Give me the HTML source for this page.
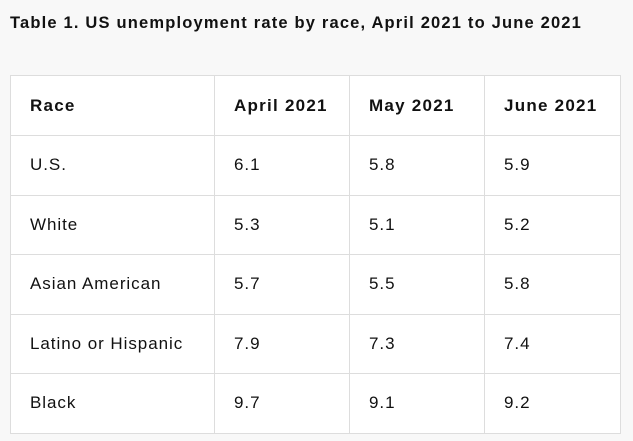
<!DOCTYPE html>
<html><head><meta charset="utf-8"><style>
body{margin:0;width:633px;height:441px;background:#f8f8f8;font-family:"Liberation Sans",sans-serif;color:#111;overflow:hidden;position:relative}
h1{position:absolute;left:10px;top:14px;margin:0;font-size:16.5px;font-weight:bold;letter-spacing:1.18px;white-space:nowrap}
table{position:absolute;left:10px;top:75px;border-collapse:collapse;background:#fff}
td,th{border:1px solid #ddd;height:59.5px;padding:0 0 0 19px;text-align:left;font-size:17px;letter-spacing:0.95px;box-sizing:border-box;white-space:nowrap}
th{font-size:17px;font-weight:bold;height:60px;letter-spacing:1.25px}
</style></head><body>
<h1>Table 1. US unemployment rate by race, April 2021 to June 2021</h1>
<table>
<colgroup><col style="width:204px"><col style="width:135px"><col style="width:135px"><col style="width:136px"></colgroup>
<tr><th>Race</th><th>April 2021</th><th>May 2021</th><th>June 2021</th></tr>
<tr><td>U.S.</td><td>6.1</td><td>5.8</td><td>5.9</td></tr>
<tr><td>White</td><td>5.3</td><td>5.1</td><td>5.2</td></tr>
<tr><td>Asian American</td><td>5.7</td><td>5.5</td><td>5.8</td></tr>
<tr><td>Latino or Hispanic</td><td>7.9</td><td>7.3</td><td>7.4</td></tr>
<tr><td>Black</td><td>9.7</td><td>9.1</td><td>9.2</td></tr>
</table>
</body></html>
